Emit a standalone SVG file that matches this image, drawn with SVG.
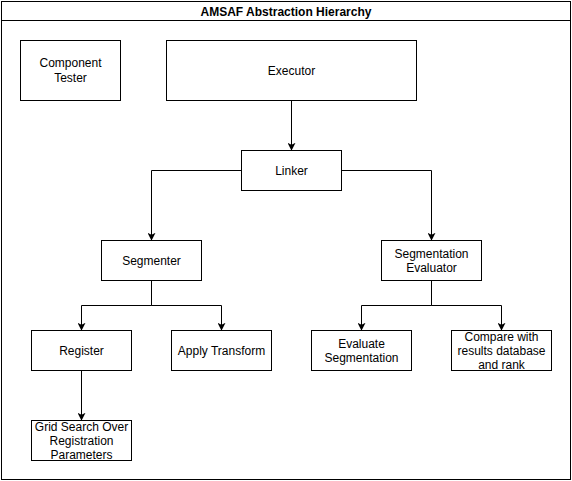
<svg xmlns="http://www.w3.org/2000/svg" width="572" height="481" viewBox="0 0 572 481">
<style>
.box{fill:#fff;stroke:#000;stroke-width:1}
.t{font-family:"Liberation Sans",Arial,sans-serif;font-size:12px;fill:#000;text-anchor:middle}
.title{font-weight:bold}
.c{fill:none;stroke:#000;stroke-width:1;marker-end:url(#arr)}
</style>
<defs>
<marker id="arr" viewBox="0 0 10 10" refX="9" refY="5" markerWidth="8" markerHeight="8" markerUnits="userSpaceOnUse" orient="auto">
<path d="M0,0 L10,5 L0,10 L2.5,5 Z" fill="#000"/>
</marker>
</defs>
<rect x="0" y="0" width="572" height="481" fill="#fff"/>
<g id="container">
<rect class="box" x="1.5" y="1.5" width="569" height="478"/>
<line x1="1.5" y1="20.5" x2="570.5" y2="20.5" stroke="#000"/>
<text class="t title" x="286" y="16">AMSAF Abstraction Hierarchy</text>
</g>
<g id="connectors">
<path class="c" d="M291.5,100.5 L291.5,150"/>
<path class="c" d="M241.5,170.5 L151.5,170.5 L151.5,240"/>
<path class="c" d="M341.5,170.5 L431.5,170.5 L431.5,240"/>
<path class="c" d="M151.5,280.5 L151.5,305.5 L81.5,305.5 L81.5,330"/>
<path class="c" d="M151.5,280.5 L151.5,305.5 L221.5,305.5 L221.5,330"/>
<path class="c" d="M431.5,280.5 L431.5,305.5 L361.5,305.5 L361.5,330"/>
<path class="c" d="M431.5,280.5 L431.5,305.5 L501.5,305.5 L501.5,330"/>
<path class="c" d="M81.5,370.5 L81.5,420"/>
</g>
<g id="component-tester">
<rect class="box" x="20.5" y="40.5" width="100" height="60"/>
<text class="t" x="70.5" y="67">Component</text>
<text class="t" x="70.5" y="82">Tester</text>
</g>
<g id="executor">
<rect class="box" x="166.5" y="40.5" width="250" height="60"/>
<text class="t" x="291.5" y="75">Executor</text>
</g>
<g id="linker">
<rect class="box" x="241.5" y="150.5" width="100" height="40"/>
<text class="t" x="291.5" y="175">Linker</text>
</g>
<g id="segmenter">
<rect class="box" x="101.5" y="240.5" width="100" height="40"/>
<text class="t" x="151.5" y="265">Segmenter</text>
</g>
<g id="segmentation-evaluator">
<rect class="box" x="381.5" y="240.5" width="100" height="40"/>
<text class="t" x="431.5" y="258">Segmentation</text>
<text class="t" x="431.5" y="272">Evaluator</text>
</g>
<g id="register">
<rect class="box" x="31.5" y="330.5" width="100" height="40"/>
<text class="t" x="81.5" y="355">Register</text>
</g>
<g id="apply-transform">
<rect class="box" x="171.5" y="330.5" width="100" height="40"/>
<text class="t" x="221.5" y="355">Apply Transform</text>
</g>
<g id="evaluate-segmentation">
<rect class="box" x="311.5" y="330.5" width="100" height="40"/>
<text class="t" x="361.5" y="348">Evaluate</text>
<text class="t" x="361.5" y="362">Segmentation</text>
</g>
<g id="compare">
<rect class="box" x="451.5" y="330.5" width="100" height="40"/>
<text class="t" x="501.5" y="341">Compare with</text>
<text class="t" x="501.5" y="355">results database</text>
<text class="t" x="501.5" y="369">and rank</text>
</g>
<g id="grid-search">
<rect class="box" x="31.5" y="420.5" width="100" height="40"/>
<text class="t" x="81.5" y="431">Grid Search Over</text>
<text class="t" x="81.5" y="445">Registration</text>
<text class="t" x="81.5" y="459">Parameters</text>
</g>
</svg>
